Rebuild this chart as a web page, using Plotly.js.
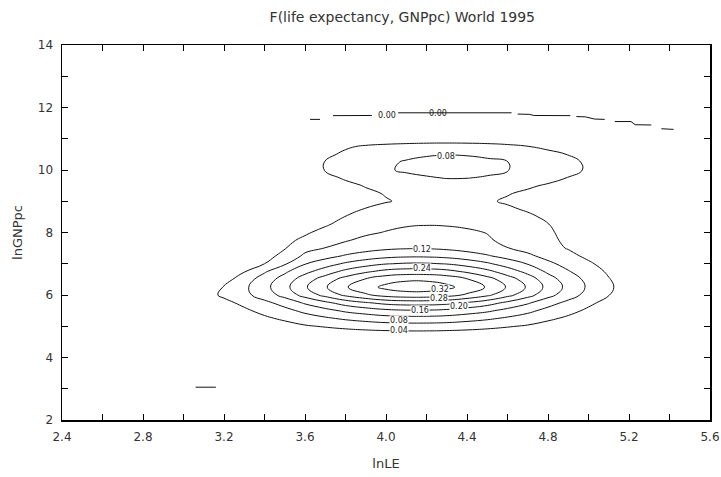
<!DOCTYPE html>
<html>
<head>
<meta charset="utf-8">
<script src="https://cdn.plot.ly/plotly-3.0.1.min.js"></script>
<style>html,body{margin:0;padding:0;background:#fff;}#chart{width:721px;height:477px;}</style>
</head>
<body>
<div id="chart"></div>
<script>
// Grid of the estimated density F(lnLE, lnGNPpc)
const lnLE = [2.9,3.0,3.1,3.2,3.3,3.4,3.5,3.6,3.7,3.8,3.9,4.0,4.1,4.2,4.3,4.4,4.5,4.6,4.7,4.8,4.9,5.0,5.1,5.2,5.3,5.4];
const lnGNPpc = [4.25,4.5,4.75,5.0,5.25,5.5,5.75,6.0,6.25,6.5,6.75,7.0,7.25,7.5,7.75,8.0,8.25,8.5,8.75,9.0,9.25,9.5,9.75,10.0,10.25,10.5,10.75,11.0,11.25,11.5];
const density = [
 [0,0,0,0,0,0,0,0,0,0,0,0,0,0,0,0,0,0,0,0,0,0,0,0,0,0],
 [0,0,0.001,0.001,0.002,0.003,0.004,0.006,0.007,0.008,0.009,0.010,0.010,0.010,0.010,0.009,0.008,0.007,0.006,0.004,0.003,0.002,0.001,0.001,0,0],
 [0,0.001,0.002,0.003,0.005,0.008,0.011,0.014,0.017,0.020,0.022,0.024,0.025,0.025,0.024,0.022,0.020,0.017,0.014,0.011,0.008,0.005,0.003,0.002,0.001,0],
 [0.001,0.002,0.004,0.008,0.014,0.020,0.027,0.036,0.043,0.050,0.056,0.060,0.062,0.062,0.060,0.056,0.050,0.043,0.036,0.027,0.020,0.014,0.008,0.004,0.002,0.001],
 [0.001,0.003,0.007,0.014,0.023,0.034,0.046,0.061,0.074,0.086,0.095,0.103,0.106,0.106,0.103,0.095,0.086,0.074,0.061,0.046,0.034,0.023,0.014,0.007,0.003,0.001],
 [0.002,0.005,0.010,0.021,0.034,0.050,0.068,0.090,0.108,0.127,0.140,0.151,0.156,0.156,0.151,0.140,0.127,0.108,0.090,0.068,0.050,0.034,0.021,0.010,0.005,0.002],
 [0.003,0.008,0.016,0.031,0.048,0.070,0.095,0.125,0.151,0.177,0.196,0.211,0.217,0.217,0.211,0.196,0.177,0.151,0.125,0.095,0.070,0.047,0.029,0.014,0.007,0.003],
 [0.005,0.011,0.026,0.046,0.069,0.099,0.133,0.175,0.212,0.248,0.274,0.295,0.304,0.304,0.295,0.274,0.248,0.212,0.175,0.133,0.098,0.066,0.041,0.020,0.009,0.004],
 [0.004,0.009,0.020,0.042,0.072,0.108,0.148,0.195,0.236,0.276,0.306,0.329,0.339,0.339,0.329,0.306,0.276,0.236,0.195,0.148,0.109,0.074,0.046,0.022,0.010,0.004],
 [0.002,0.005,0.012,0.025,0.060,0.100,0.137,0.181,0.219,0.256,0.283,0.305,0.314,0.314,0.305,0.283,0.256,0.219,0.181,0.137,0.101,0.069,0.042,0.020,0.009,0.004],
 [0.001,0.004,0.010,0.020,0.038,0.075,0.113,0.149,0.180,0.211,0.234,0.252,0.259,0.259,0.252,0.234,0.211,0.180,0.149,0.113,0.083,0.057,0.035,0.017,0.008,0.003],
 [0,0.002,0.005,0.012,0.022,0.040,0.075,0.118,0.142,0.166,0.184,0.198,0.204,0.204,0.198,0.184,0.166,0.142,0.118,0.089,0.066,0.045,0.027,0.013,0.006,0.002],
 [0,0.001,0.003,0.007,0.015,0.028,0.050,0.088,0.106,0.124,0.138,0.148,0.153,0.153,0.148,0.138,0.124,0.106,0.088,0.067,0.049,0.033,0.021,0.010,0.005,0.002],
 [0,0.001,0.002,0.005,0.010,0.022,0.038,0.068,0.081,0.095,0.105,0.113,0.117,0.117,0.113,0.105,0.095,0.081,0.067,0.051,0.038,0.026,0.016,0.008,0.004,0.001],
 [0,0.001,0.002,0.005,0.010,0.020,0.033,0.046,0.062,0.077,0.089,0.096,0.100,0.100,0.098,0.093,0.084,0.072,0.060,0.047,0.034,0.022,0.012,0.006,0.002,0],
 [0,0,0.001,0.002,0.005,0.012,0.024,0.036,0.049,0.062,0.074,0.082,0.088,0.090,0.089,0.085,0.079,0.068,0.056,0.044,0.032,0.020,0.010,0.004,0.001,0],
 [0,0,0,0.001,0.002,0.004,0.012,0.022,0.037,0.050,0.062,0.071,0.077,0.079,0.078,0.075,0.070,0.062,0.052,0.041,0.030,0.018,0.008,0.003,0.001,0],
 [0,0,0,0,0.001,0.002,0.004,0.010,0.025,0.041,0.052,0.060,0.065,0.068,0.068,0.066,0.062,0.055,0.046,0.034,0.022,0.010,0.004,0.001,0,0],
 [0,0,0,0,0,0.001,0.002,0.004,0.012,0.028,0.042,0.050,0.055,0.058,0.059,0.057,0.052,0.045,0.036,0.024,0.012,0.005,0.002,0,0,0],
 [0,0,0,0,0,0,0.001,0.003,0.008,0.016,0.026,0.038,0.045,0.049,0.050,0.049,0.044,0.036,0.027,0.018,0.010,0.004,0.001,0,0,0],
 [0,0,0,0,0,0.001,0.002,0.005,0.012,0.022,0.034,0.042,0.048,0.051,0.052,0.051,0.048,0.042,0.034,0.024,0.014,0.006,0.002,0,0,0],
 [0,0,0,0,0.001,0.002,0.004,0.010,0.020,0.032,0.042,0.051,0.058,0.063,0.065,0.064,0.060,0.054,0.045,0.036,0.026,0.016,0.008,0.003,0.001,0],
 [0,0,0,0.001,0.001,0.003,0.008,0.018,0.031,0.044,0.055,0.064,0.071,0.077,0.0815,0.081,0.077,0.070,0.061,0.051,0.039,0.027,0.016,0.008,0.003,0.001],
 [0,0,0,0.001,0.003,0.008,0.016,0.028,0.041,0.053,0.064,0.076,0.085,0.090,0.093,0.092,0.088,0.081,0.072,0.061,0.049,0.036,0.024,0.013,0.005,0.001],
 [0,0,0,0.001,0.003,0.008,0.016,0.027,0.041,0.052,0.063,0.074,0.083,0.088,0.090,0.089,0.085,0.0805,0.071,0.060,0.048,0.035,0.023,0.012,0.005,0.001],
 [0,0,0,0,0.001,0.004,0.010,0.020,0.033,0.046,0.056,0.065,0.072,0.077,0.079,0.078,0.075,0.069,0.060,0.050,0.039,0.027,0.015,0.007,0.002,0],
 [0,0,0,0,0,0.001,0.003,0.008,0.018,0.036,0.044,0.048,0.051,0.053,0.054,0.053,0.051,0.047,0.041,0.032,0.022,0.012,0.005,0.001,0,0],
 [0,0,0,0,0,0,0,0.002,0.006,0.012,0.018,0.021,0.022,0.023,0.023,0.023,0.022,0.020,0.016,0.011,0.006,0.002,0,0,0,0],
 [0,0,0,0,0,0,0,0,0,0.003,0.005,0.007,0.008,0.008,0.008,0.008,0.008,0.006,0.004,0.002,0,0,0,0,0,0],
 [0,0,0,0,0,0,0,0,0,0,0,0,0,0,0,0,0,0,0,0,0,0,0,0,0,0]
];

// Broken 0.00 level of the estimate (gaps = null)
const zeroLevelX = [3.625,3.674,null,3.738,3.93,null,4.06,4.62,null,4.65,4.71,4.73,4.91,null,4.94,4.985,5.03,5.08,null,5.13,5.21,5.23,5.31,null,5.36,5.42,null,3.06,3.16];
const zeroLevelY = [11.62,11.62,null,11.74,11.745,null,11.83,11.83,null,11.79,11.78,11.745,11.74,null,11.71,11.70,11.63,11.62,null,11.55,11.55,11.45,11.44,null,11.32,11.30,null,3.05,3.05];

// Contour labels
const labelText = ['0.00','0.00','0.08','0.12','0.24','0.32','0.28','0.20','0.16','0.08','0.04'];
const labelX    = [4.005,4.257,4.296,4.178,4.178,4.265,4.260,4.360,4.170,4.064,4.064];
const labelY    = [11.76,11.82,10.42,7.47,6.86,6.19,5.88,5.64,5.50,5.17,4.87];
const labelMask = [false,false,true,true,true,true,true,true,true,true,true];

const FONT = '"DejaVu Sans", "Liberation Sans", Arial, sans-serif';

const traces = [
  {
    type: 'contour',
    x: lnLE, y: lnGNPpc, z: density,
    contours: {coloring: 'none', start: 0.04, end: 0.32, size: 0.04, showlabels: false},
    line: {color: '#111', width: 1, smoothing: 1.3},
    showscale: false, hoverinfo: 'skip'
  },
  {
    type: 'scatter', mode: 'lines',
    x: zeroLevelX, y: zeroLevelY,
    line: {color: '#111', width: 1},
    connectgaps: false, hoverinfo: 'skip', showlegend: false
  }
];

const annotations = labelText.map((t, i) => ({
  x: labelX[i], y: labelY[i], xref: 'x', yref: 'y',
  text: t, showarrow: false,
  font: {family: FONT, size: 8, color: '#222'},
  bgcolor: labelMask[i] ? '#ffffff' : 'rgba(0,0,0,0)',
  borderpad: 0
}));

const axisCommon = {
  ticks: 'inside', ticklen: 6, tickwidth: 1, tickcolor: '#000',
  showline: true, linecolor: '#000', linewidth: 1.5, mirror: 'ticks',
  showgrid: false, zeroline: false,
  tickfont: {family: FONT, size: 12, color: '#333'}
};

const layout = {
  width: 721, height: 477,
  margin: {l: 62, r: 11, t: 45, b: 57},
  paper_bgcolor: '#fff', plot_bgcolor: '#fff',
  showlegend: false,
  title: {text: 'F(life expectancy, GNPpc) World 1995', x: 0.558, xanchor: 'center', y: 0.965, yanchor: 'middle',
          font: {family: FONT, size: 14, color: '#333'}},
  xaxis: Object.assign({}, axisCommon, {
    range: [2.4, 5.6], tick0: 2.4, dtick: 0.4, tickformat: '.1f', ticklabelstandoff: 5,
    minor: {tick0: 2.4, dtick: 0.2, ticks: 'inside', ticklen: 6, tickcolor: '#000', showgrid: false},
    title: {text: 'lnLE', font: {family: FONT, size: 13, color: '#333'}, standoff: 16}
  }),
  yaxis: Object.assign({}, axisCommon, {
    range: [2, 14], tick0: 2, dtick: 2, ticklabelstandoff: 5,
    minor: {tick0: 2, dtick: 1, ticks: 'inside', ticklen: 6, tickcolor: '#000', showgrid: false},
    title: {text: 'lnGNPpc', font: {family: FONT, size: 13, color: '#333'}, standoff: 12}
  }),
  annotations: annotations
};

Plotly.newPlot('chart', traces, layout, {staticPlot: true, displayModeBar: false});
</script>
</body>
</html>
